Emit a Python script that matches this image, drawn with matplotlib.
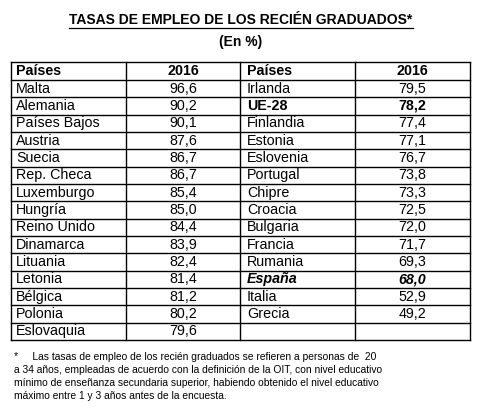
import matplotlib
matplotlib.use("Agg")
import matplotlib.pyplot as plt

left_countries = ["Malta","Alemania","Países Bajos","Austria","Suecia","Rep. Checa","Luxemburgo","Hungría","Reino Unido","Dinamarca","Lituania","Letonia","Bélgica","Polonia","Eslovaquia"]
left_values = [96.6,90.2,90.1,87.6,86.7,86.7,85.4,85.0,84.4,83.9,82.4,81.4,81.2,80.2,79.6]
right_countries = ["Irlanda","UE-28","Finlandia","Estonia","Eslovenia","Portugal","Chipre","Croacia","Bulgaria","Francia","Rumania","España","Italia","Grecia"]
right_values = [79.5,78.2,77.4,77.1,76.7,73.8,73.3,72.5,72.0,71.7,69.3,68.0,52.9,49.2]
headers = ["Países","2016","Países","2016"]
title = "TASAS DE EMPLEO DE LOS RECIÉN GRADUADOS*"
subtitle = "(En %)"
footnote = ["*     Las tasas de empleo de los recién graduados se refieren a personas de  20",
            "a 34 años, empleadas de acuerdo con la definición de la OIT, con nivel educativo",
            "mínimo de enseñanza secundaria superior, habiendo obtenido el nivel educativo",
            "máximo entre 1 y 3 años antes de la encuesta."]

plt.rcParams['font.family'] = ['Liberation Sans', 'DejaVu Sans']
fig = plt.figure(figsize=(4.83, 4.16), dpi=100)
ax = fig.add_axes([0, 0, 1, 1])
ax.set_xlim(0, 483); ax.set_ylim(416, 0); ax.axis('off')

def fmt(v):
    return f"{v:.1f}".replace('.', ',')

xs = [11, 126, 240, 355, 470]
top, hdr, rh = 62, 80, 17.33
n = len(left_countries)
bottom = hdr + n*rh
lw = 1.0
ax.plot([xs[0], xs[-1]], [top, top], color='black', lw=lw)
ax.plot([xs[0], xs[-1]], [hdr, hdr], color='black', lw=lw)
for i in range(1, n+1):
    y = hdr + i*rh
    ax.plot([xs[0], xs[4]], [y, y], color='black', lw=lw)
for x in xs:
    ax.plot([x, x], [top, bottom], color='black', lw=lw)

fs = 10.3
ty = (top+hdr)/2
ax.text(xs[0]+5, ty, headers[0], fontsize=fs, weight='bold', va='center')
ax.text((xs[1]+xs[2])/2, ty, headers[1], fontsize=fs, weight='bold', va='center', ha='center')
ax.text(xs[2]+7, ty, headers[2], fontsize=fs, weight='bold', va='center')
ax.text((xs[3]+xs[4])/2, ty, headers[3], fontsize=fs, weight='bold', va='center', ha='center')

for i, (c, v) in enumerate(zip(left_countries, left_values)):
    y = hdr + (i+0.5)*rh
    ax.text(xs[0]+5, y, c, fontsize=fs, va='center')
    ax.text((xs[1]+xs[2])/2, y, fmt(v), fontsize=fs, va='center', ha='center')
for i, (c, v) in enumerate(zip(right_countries, right_values)):
    y = hdr + (i+0.5)*rh
    kw = {}
    if c == "UE-28":
        kw = dict(weight='bold')
    if c == "España":
        kw = dict(weight='bold', style='italic')
    ax.text(xs[2]+7, y, c, fontsize=fs, va='center', **kw)
    ax.text((xs[3]+xs[4])/2, y, fmt(v), fontsize=fs, va='center', ha='center', **kw)

t = ax.text(241, 20, title, fontsize=10, weight='bold', ha='center', va='center')
fig.canvas.draw()
bb = t.get_window_extent()
ax.plot([bb.x0, bb.x1], [28, 28], color='black', lw=0.9)
ax.text(241, 42, subtitle, fontsize=10, weight='bold', ha='center', va='center')

for i, line in enumerate(footnote):
    ax.text(14, 357 + i*13, line, fontsize=7.4, va='center')

fig.savefig("out.png", dpi=100)
